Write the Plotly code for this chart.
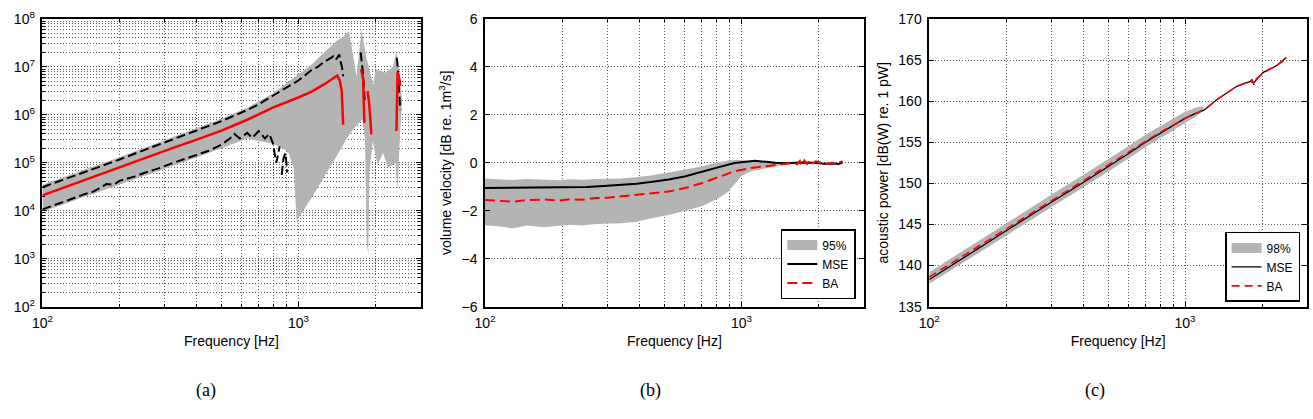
import math
import plotly.graph_objects as go

# ---------------- panel (a): magnitude (log-log) ----------------
freq_a_band_up = [100, 200, 316, 501, 631, 794, 1000, 1122, 1259, 1413, 1496, 1578, 1687, 1766,
                  1841, 1959, 2000, 2188, 2344, 2415, 2470, 2541]
band_a_up = [3.5e4, 1.3e5, 3.3e5, 8.3e5, 1.4e6, 2.8e6, 7.0e6, 1.1e7, 2.0e7, 3.5e7, 4.2e7, 5.6e7,
             6.3e6, 6.0e7, 1.6e7, 4.2e6, 8.9e6, 7.6e6, 1.0e7, 2.1e7, 1.0e7, 2.0e6]
freq_a_band_lo = [100, 158, 200, 316, 501, 631, 794, 870, 915, 957, 984, 1000, 1122, 1259, 1413,
                  1585, 1700, 1778, 1820, 1850, 1875, 1895, 1950, 2040, 2140, 2240, 2400, 2440,
                  2480, 2541]
band_a_lo = [9.5e3, 2.2e4, 3.5e4, 8.3e4, 2.0e5, 3.2e5, 2.5e5, 2.0e5, 1.6e5, 7.9e4, 6.2e3, 7.1e3,
             1.8e4, 5.0e4, 1.4e5, 4.0e5, 6.3e5, 7.9e5, 3.2e5, 2.0e3, 1.26e3, 6.3e4, 2.8e5, 8.9e4,
             1.6e5, 7.9e4, 1.0e5, 2.5e4, 2.0e5, 2.0e6]

freq_a_upper = [100, 126, 158, 200, 251, 316, 398, 501, 631, 700, 794, 891, 1000, 1060, 1122, 1190,
                1259, 1330, 1368, 1400, 1445, 1462, 1480, 1496, None, 1750, 1765, 1778, 1790, 1805,
                1815, None, 2420, 2435, 2450, 2465, 2480, 2500]
dash_a_upper = [3.1e4, 4.8e4, 7.6e4, 1.17e5, 1.86e5, 2.95e5, 4.7e5, 7.4e5, 1.26e6, 1.66e6, 2.5e6,
                3.6e6, 5.2e6, 6.6e6, 8.5e6, 1.0e7, 1.26e7, 1.5e7, 1.66e7, 1.4e7, 1.8e7, 1.26e7,
                1.0e7, 6.3e6, None, 2.0e7, 1.4e7, 1.17e7, 6.9e6, 3.2e6, 2.0e6, None, 1.55e7,
                1.26e7, 7.2e6, 4.0e6, 2.8e6, 1.26e6]

freq_a_lower = [100, 115, 126, 145, 158, 178, 190, 200, 230, 251, 290, 316, 360, 398, 447, 501, 540,
                562, 590, 631, 660, 700, 740, 770, 794, 820, 845, None, 860, 875, 890, 905]
dash_a_lower = [1.07e4, 1.38e4, 1.66e4, 2.2e4, 2.5e4, 3.6e4, 3.5e4, 4.2e4, 5.2e4, 6.2e4, 7.9e4,
                9.5e4, 1.2e5, 1.41e5, 1.78e5, 2.4e5, 3.2e5, 4.0e5, 3.2e5, 4.2e5, 3.3e5, 4.6e5,
                3.2e5, 4.0e5, 2.6e5, 1.0e5, 2.2e5, None, 5.6e4, 1.26e5, 1.6e5, 6.3e4]

freq_a_red = [100, 126, 158, 200, 251, 316, 398, 501, 631, 794, 1000, 1122, 1259, 1368, 1419, 1450,
              1476, 1496, None, 1758, 1778, 1790, 1799, 1811, None, 1862, 1884, 1905, 1928, None,
              2415, 2430, 2440, 2480, 2500]
red_a = [2.1e4, 3.3e4, 5.2e4, 8.1e4, 1.26e5, 1.95e5, 3.0e5, 4.7e5, 7.9e5, 1.41e6, 2.3e6, 3.0e6,
         4.3e6, 5.8e6, 6.6e6, 5.2e6, 3.2e6, 6.2e5, None, 8.9e6, 6.3e6, 5.6e6, 2.0e6, 6.8e5, None,
         3.1e6, 2.0e6, 1.0e6, 3.9e5, None, 4.6e5, 3.2e6, 7.8e6, 5.6e6, 4.0e6]

# ---------------- panel (b): volume velocity ----------------
freq_b_band = [100, 115, 128, 145, 170, 195, 215, 240, 270, 300, 340, 386, 450, 520, 604, 700,
               812, 888, 942, 1000, 1090, 1268, 1469, 1600]
band_b_up = [-0.65, -0.70, -0.72, -0.68, -0.70, -0.73, -0.69, -0.71, -0.68, -0.68, -0.65, -0.60,
             -0.52, -0.40, -0.28, -0.15, 0.02, 0.10, 0.12, 0.12, 0.05, 0.0, 0.04, 0.03]
band_b_lo = [-2.60, -2.66, -2.74, -2.62, -2.69, -2.63, -2.58, -2.62, -2.55, -2.55, -2.52, -2.47,
             -2.30, -2.18, -2.00, -1.81, -1.48, -1.21, -0.88, -0.55, -0.35, -0.21, -0.08, 0.0]

freq_b_mse = [100, 150, 200, 250, 290, 340, 390, 450, 520, 600, 700, 810, 940, 1030, 1130, 1250,
              1350, 1500, 1700, 1900, 2100, 2300, 2400, 2480]
mse_b = [-1.05, -1.04, -1.03, -1.01, -0.97, -0.93, -0.87, -0.79, -0.70, -0.57, -0.39, -0.19, -0.01,
         0.05, 0.08, 0.04, 0.0, -0.02, 0.01, 0.0, -0.04, -0.03, -0.05, 0.02]

freq_b_ba = [100, 115, 128, 145, 170, 195, 215, 240, 270, 300, 340, 386, 450, 520, 604, 700, 812,
             942, 1090, 1268, 1469, 1600, 1650, 1690, 1720, 1760, 1800, 1850, 1900, 1950, 2050,
             2150, 2250, 2350, 2420, 2480]
ba_b = [-1.55, -1.58, -1.62, -1.56, -1.53, -1.57, -1.52, -1.54, -1.47, -1.46, -1.40, -1.33, -1.27,
        -1.20, -1.05, -0.85, -0.60, -0.35, -0.22, -0.13, -0.05, 0.0, -0.06, 0.08, -0.12, 0.10,
        -0.05, 0.12, -0.02, 0.06, 0.0, -0.05, 0.0, -0.06, 0.03, 0.05]

# ---------------- panel (c): acoustic power ----------------
freq_c_band = [100, 150, 200, 300, 400, 500, 600, 700, 800, 900, 1000, 1100, 1180]
band_c_up = [139.2, 142.7, 145.1, 148.6, 151.0, 152.9, 154.5, 155.9, 157.0, 157.9, 158.7, 159.2,
             159.4]
band_c_lo = [137.8, 141.2, 143.6, 147.1, 149.5, 151.4, 153.0, 154.4, 155.5, 156.4, 157.3, 158.1,
             158.9]

freq_c_mse = [100, 150, 200, 300, 400, 500, 600, 700, 800, 900, 1000, 1100, 1186, 1334, 1595,
              1800, 1857, 1900, 2023, 2275, 2489]
mse_c = [138.3, 141.8, 144.2, 147.7, 150.1, 152.0, 153.6, 155.0, 156.1, 157.0, 157.9, 158.5,
         158.9, 160.2, 161.8, 162.4, 162.2, 162.6, 163.5, 164.3, 165.3]

freq_c_ba = [100, 150, 200, 300, 400, 500, 600, 700, 800, 900, 1000, 1100, 1186, 1334, 1595,
             1780, 1830, 1857, 1880, 1950, 2023, 2150, 2275, 2400, 2489]
ba_c = [138.6, 142.0, 144.4, 147.9, 150.3, 152.2, 153.8, 155.1, 156.2, 157.1, 157.9, 158.5, 158.9,
        160.2, 161.8, 162.4, 162.6, 162.0, 162.6, 163.0, 163.4, 163.9, 164.3, 164.8, 165.3]

# ---------------- axis ticks ----------------
x_tickvals = [100, 1000]
x_ticktext = ["10<sup>2</sup>", "10<sup>3</sup>"]
x_minorvals = [200, 300, 400, 500, 600, 700, 800, 900, 2000]
ya_tickvals = [1e2, 1e3, 1e4, 1e5, 1e6, 1e7, 1e8]
ya_ticktext = ["10<sup>%d</sup>" % e for e in range(2, 9)]
ya_minorvals = [m * 10 ** e for e in range(2, 8) for m in range(2, 10)]
yb_tickvals = [-6, -4, -2, 0, 2, 4, 6]
yc_tickvals = [135, 140, 145, 150, 155, 160, 165, 170]

GRAY = "#b4b4b4"
RED = "#ff0000"
GRIDC = "#5c5c5c"
GRIDDASH = "1px,2px"
W, H = 1313, 419
FS = 14


def band(fx_up, up, fx_lo, lo):
    return list(fx_up) + list(fx_lo)[::-1], list(up) + list(lo)[::-1]


fig = go.Figure()

# panel (a)
bx, by = band(freq_a_band_up, band_a_up, freq_a_band_lo, band_a_lo)
fig.add_trace(go.Scatter(x=bx, y=by, fill="toself", fillcolor=GRAY, line=dict(width=0),
                         mode="lines", showlegend=False, xaxis="x", yaxis="y", hoverinfo="skip"))
fig.add_trace(go.Scatter(x=freq_a_upper, y=dash_a_upper, mode="lines",
                         line=dict(color="black", width=2, dash="9px,4px"), showlegend=False,
                         xaxis="x", yaxis="y"))
fig.add_trace(go.Scatter(x=freq_a_lower, y=dash_a_lower, mode="lines",
                         line=dict(color="black", width=2, dash="9px,4px"), showlegend=False,
                         xaxis="x", yaxis="y"))
fig.add_trace(go.Scatter(x=freq_a_red, y=red_a, mode="lines", line=dict(color=RED, width=2.5),
                         showlegend=False, xaxis="x", yaxis="y"))

# panel (b)
bx, by = band(freq_b_band, band_b_up, freq_b_band, band_b_lo)
fig.add_trace(go.Scatter(x=bx, y=by, fill="toself", fillcolor=GRAY, line=dict(width=0),
                         mode="lines", showlegend=False, xaxis="x2", yaxis="y2",
                         hoverinfo="skip"))
fig.add_trace(go.Scatter(x=[None], y=[None], mode="lines", name="95%",
                         line=dict(color=GRAY, width=10), legend="legend",
                         xaxis="x2", yaxis="y2"))
fig.add_trace(go.Scatter(x=freq_b_mse, y=mse_b, mode="lines", name="MSE",
                         line=dict(color="black", width=2), legend="legend",
                         xaxis="x2", yaxis="y2"))
fig.add_trace(go.Scatter(x=freq_b_ba, y=ba_b, mode="lines", name="BA",
                         line=dict(color=RED, width=2, dash="10px,5px"), legend="legend",
                         xaxis="x2", yaxis="y2"))

# panel (c)
bx, by = band(freq_c_band, band_c_up, freq_c_band, band_c_lo)
fig.add_trace(go.Scatter(x=bx, y=by, fill="toself", fillcolor=GRAY, line=dict(width=0),
                         mode="lines", showlegend=False, xaxis="x3", yaxis="y3",
                         hoverinfo="skip"))
fig.add_trace(go.Scatter(x=[None], y=[None], mode="lines", name="98%",
                         line=dict(color=GRAY, width=10), legend="legend2",
                         xaxis="x3", yaxis="y3"))
fig.add_trace(go.Scatter(x=freq_c_mse, y=mse_c, mode="lines", name="MSE",
                         line=dict(color="black", width=1.3), legend="legend2",
                         xaxis="x3", yaxis="y3"))
fig.add_trace(go.Scatter(x=freq_c_ba, y=ba_c, mode="lines", name="BA",
                         line=dict(color=RED, width=1.6, dash="8px,5px"), legend="legend2",
                         xaxis="x3", yaxis="y3"))

common = dict(showline=True, linecolor="black", linewidth=1.5, mirror="allticks",
              ticks="inside", ticklen=5, tickwidth=1, tickcolor="black",
              showgrid=True, gridcolor=GRIDC, griddash=GRIDDASH, gridwidth=1,
              zeroline=False, tickfont=dict(size=FS, color="black"))
minor = dict(tickmode="array", tickvals=x_minorvals, ticks="inside", ticklen=3,
             tickcolor="black", showgrid=True, gridcolor=GRIDC, griddash=GRIDDASH, gridwidth=1)

x_range = [2, math.log10(3000)]
y_dom = [1 - 310 / H, 1 - 9.3 / H]
xdoms = [[31.7 / W, 413 / W], [478 / W, 860 / W], [926 / W, 1307 / W]]

layout = dict(
    width=W, height=H, margin=dict(l=0, r=0, t=0, b=0),
    paper_bgcolor="white", plot_bgcolor="white",
    font=dict(family="Liberation Sans, Arial, sans-serif", size=FS, color="black"),
)
for i, xd in enumerate(xdoms):
    sfx = "" if i == 0 else str(i + 1)
    layout["xaxis" + sfx] = dict(common, type="log", range=x_range, domain=xd,
                                 anchor="y" + sfx, tickmode="array", tickvals=x_tickvals,
                                 ticktext=x_ticktext, minor=minor, ticklabelstandoff=3,
                                 title=dict(text="Frequency [Hz]", standoff=6,
                                            font=dict(size=FS)))
layout["yaxis"] = dict(common, type="log", range=[2, 8], domain=y_dom, anchor="x",
                       tickmode="array", tickvals=ya_tickvals, ticktext=ya_ticktext,
                       ticklabelstandoff=3, minor=dict(minor, tickvals=ya_minorvals))
layout["yaxis2"] = dict(common, range=[-6, 6], domain=y_dom, anchor="x2", tickmode="array",
                        tickvals=yb_tickvals, ticklabelstandoff=3,
                        title=dict(text="volume velocity [dB re. 1m<sup>3</sup>/s]", standoff=7,
                                   font=dict(size=FS)))
layout["yaxis3"] = dict(common, range=[135, 170], domain=y_dom, anchor="x3", tickmode="array",
                        tickvals=yc_tickvals, ticklabelstandoff=3,
                        title=dict(text="acoustic power [dB(W) re. 1 pW]", standoff=6,
                                   font=dict(size=FS)))
legend_common = dict(bordercolor="black", borderwidth=1.5, bgcolor="white",
                     font=dict(size=12, color="black"), itemwidth=30, tracegroupgap=0,
                     xanchor="right", yanchor="bottom", itemclick=False)
layout["legend"] = dict(legend_common, x=852 / W, y=1 - 302 / H)
layout["legend2"] = dict(legend_common, x=1300 / W, y=1 - 305 / H)

captions = ["(a)", "(b)", "(c)"]
caption_x = [197, 645, 1093]
layout["annotations"] = [
    dict(text=c, x=cx / W, y=1 - 398 / H, xref="paper", yref="paper", showarrow=False,
         xanchor="center", yanchor="middle",
         font=dict(family="Liberation Serif, Times New Roman, serif", size=18, color="black"))
    for c, cx in zip(captions, caption_x)
]

fig.update_layout(**layout)
fig.write_html("out.html")
